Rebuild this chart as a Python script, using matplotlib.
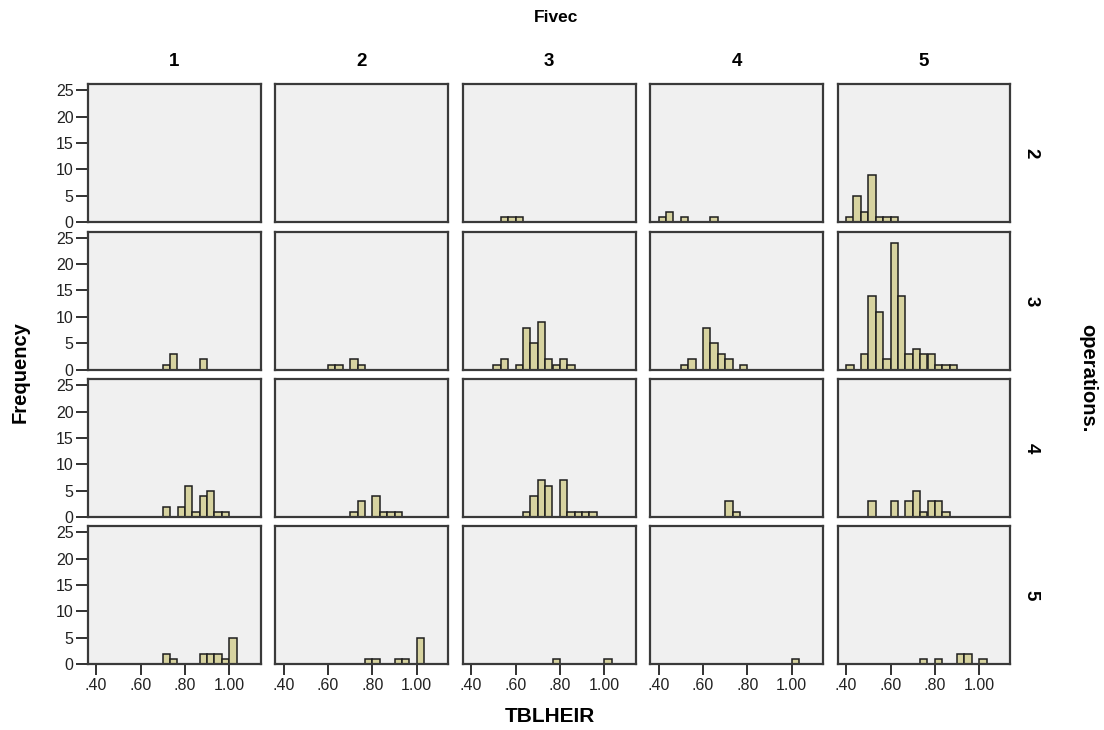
import matplotlib

matplotlib.use("Agg")

import matplotlib.pyplot as plt
import numpy as np

plt.rcParams["font.family"] = ["Liberation Sans", "DejaVu Sans"]

# TBLHEIR bins (left edges), width 1/30
BIN_WIDTH = 1 / 30
bin_left = [0.400, 0.433, 0.467, 0.500, 0.533, 0.567, 0.600, 0.633, 0.667, 0.700,
            0.733, 0.767, 0.800, 0.833, 0.867, 0.900, 0.933, 0.967, 1.000]

fivec_levels = ["1", "2", "3", "4", "5"]
operations_levels = ["2", "3", "4", "5"]

# counts per Fivec column, one list per operations row
ops2_counts = [
    [0, 0, 0, 0, 0, 0, 0, 0, 0, 0, 0, 0, 0, 0, 0, 0, 0, 0, 0],
    [0, 0, 0, 0, 0, 0, 0, 0, 0, 0, 0, 0, 0, 0, 0, 0, 0, 0, 0],
    [0, 0, 0, 0, 1, 1, 1, 0, 0, 0, 0, 0, 0, 0, 0, 0, 0, 0, 0],
    [1, 2, 0, 1, 0, 0, 0, 1, 0, 0, 0, 0, 0, 0, 0, 0, 0, 0, 0],
    [1, 5, 2, 9, 1, 1, 1, 0, 0, 0, 0, 0, 0, 0, 0, 0, 0, 0, 0],
]
ops3_counts = [
    [0, 0, 0, 0, 0, 0, 0, 0, 0, 1, 3, 0, 0, 0, 2, 0, 0, 0, 0],
    [0, 0, 0, 0, 0, 0, 1, 1, 0, 2, 1, 0, 0, 0, 0, 0, 0, 0, 0],
    [0, 0, 0, 1, 2, 0, 1, 8, 5, 9, 2, 1, 2, 1, 0, 0, 0, 0, 0],
    [0, 0, 0, 1, 2, 0, 8, 5, 3, 2, 0, 1, 0, 0, 0, 0, 0, 0, 0],
    [1, 0, 3, 14, 11, 2, 24, 14, 3, 4, 3, 3, 1, 1, 1, 0, 0, 0, 0],
]
ops4_counts = [
    [0, 0, 0, 0, 0, 0, 0, 0, 0, 2, 0, 2, 6, 1, 4, 5, 1, 1, 0],
    [0, 0, 0, 0, 0, 0, 0, 0, 0, 1, 3, 0, 4, 1, 1, 1, 0, 0, 0],
    [0, 0, 0, 0, 0, 0, 0, 1, 4, 7, 6, 0, 7, 1, 1, 1, 1, 0, 0],
    [0, 0, 0, 0, 0, 0, 0, 0, 0, 3, 1, 0, 0, 0, 0, 0, 0, 0, 0],
    [0, 0, 0, 3, 0, 0, 3, 0, 3, 5, 1, 3, 3, 1, 0, 0, 0, 0, 0],
]
ops5_counts = [
    [0, 0, 0, 0, 0, 0, 0, 0, 0, 2, 1, 0, 0, 0, 2, 2, 2, 1, 5],
    [0, 0, 0, 0, 0, 0, 0, 0, 0, 0, 0, 1, 1, 0, 0, 1, 1, 0, 5],
    [0, 0, 0, 0, 0, 0, 0, 0, 0, 0, 0, 1, 0, 0, 0, 0, 0, 0, 1],
    [0, 0, 0, 0, 0, 0, 0, 0, 0, 0, 0, 0, 0, 0, 0, 0, 0, 0, 1],
    [0, 0, 0, 0, 0, 0, 0, 0, 0, 0, 1, 0, 1, 0, 0, 2, 2, 0, 1],
]

x_ticks = [0.40, 0.60, 0.80, 1.00]
x_ticklabels = [".40", ".60", ".80", "1.00"]
y_ticks = [0, 5, 10, 15, 20, 25]

W, H = 1104, 730
fig = plt.figure(figsize=(W / 100, H / 100), dpi=100)

# panel layout in pixels
col_left = [87.5, 275, 462.5, 650, 837.5]
row_top = [84.3, 231.8, 379.3, 526.3]
panel_w, panel_h = 173, 138

all_counts = [ops2_counts, ops3_counts, ops4_counts, ops5_counts]
bar_fill = "#D7D3A0"
edge = "#1e1e1e"

for r, row_counts in enumerate(all_counts):
    for c, counts in enumerate(row_counts):
        ax = fig.add_axes([col_left[c] / W, 1 - (row_top[r] + panel_h) / H,
                           panel_w / W, panel_h / H])
        ax.set_facecolor("#F0F0F0")
        counts = np.array(counts)
        lefts = np.array(bin_left)
        mask = counts > 0
        ax.bar(lefts[mask], counts[mask], width=BIN_WIDTH, align="edge",
               color=bar_fill, edgecolor=edge, linewidth=1.1, zorder=2)
        ax.set_xlim(0.361, 1.141)
        ax.set_ylim(0, 26.1)
        for s in ax.spines.values():
            s.set_color("#3a3a3a")
            s.set_linewidth(1.6)
        ax.tick_params(direction="out", color="#222222", width=1.3,
                       labelsize=11.5, labelcolor="#222222")
        ax.set_xticks(x_ticks)
        ax.set_yticks(y_ticks)
        if r == len(all_counts) - 1:
            ax.set_xticklabels(x_ticklabels)
            ax.tick_params(axis="x", length=8, pad=2)
        else:
            ax.tick_params(axis="x", length=0, labelbottom=False)
        if c == 0:
            ax.set_yticklabels([str(v) for v in y_ticks])
            ax.tick_params(axis="y", length=9, pad=1)
        else:
            ax.tick_params(axis="y", length=0, labelleft=False)

        if r == 0:
            fig.text((col_left[c] + panel_w / 2) / W, 1 - 62 / H, fivec_levels[c],
                     ha="center", va="center", fontsize=13.5, fontweight="bold")
        if c == len(fivec_levels) - 1:
            fig.text(1031 / W, 1 - (row_top[r] + panel_h / 2) / H, operations_levels[r],
                     ha="center", va="center", fontsize=13.5, fontweight="bold",
                     rotation=270)

fig.text(556 / W, 1 - 18 / H, "Fivec", ha="center", va="center",
         fontsize=12.5, fontweight="bold")
fig.text(550 / W, 1 - 717 / H, "TBLHEIR", ha="center", va="center",
         fontsize=15, fontweight="bold")
fig.text(20 / W, 1 - 372 / H, "Frequency", ha="center", va="center",
         fontsize=14.5, fontweight="bold", rotation=90)
fig.text(1088 / W, 1 - 378 / H, "operations.", ha="center", va="center",
         fontsize=14.5, fontweight="bold", rotation=270)

fig.savefig("out.png", dpi=100, facecolor="white")
